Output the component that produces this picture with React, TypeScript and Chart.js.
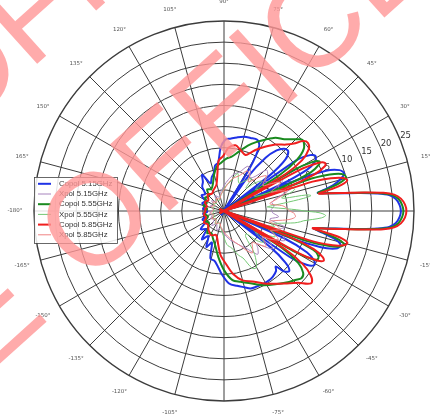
import React, { useEffect, useRef } from 'react';
import { Chart, registerables } from 'chart.js';

Chart.register(...registerables);

// Angular resolution of the radar categories (degrees per label)
const STEP = 0.5;
const COUNT = 720;

// Pattern samples: [angle in degrees (CCW from 0°), gain in dB]
const copol515: [number, number][] = [
  [0, 21.9], [2, 21.6], [4, 20.8], [5.5, 19.3], [6.5, 16.5], [7.5, 12.5], [8.5, 8.5], [9.5, 5.5], [10.5, 3.2], [11, 2.6],
  [12, 4.5], [13.5, 6.8], [15.5, 8.8], [17.5, 9.8], [19.5, 9], [21.5, 6], [23, -2], [24, -21],
  [25, -5], [26.5, 2], [28.5, 4.5], [31, 5.3], [33, 4.3], [35, 1], [36.5, -21],
  [38, -6], [40, -1], [43, 0.8], [46, 0.5], [49, -1], [52, -4], [55, -10], [57, -21],
  [59, -8], [61.5, -2.5], [65, -1.4], [70, -1.6], [75, -1.8], [80, -2.3], [85, -2.8], [89, -3.1], [93, -5], [97, -8.5],
  [101, -9], [105, -10.7], [110, -11.5], [116, -12.7], [121, -10], [126, -11.5], [132, -12.3], [138, -14], [145, -13.5],
  [152, -15], [160, -14.5], [168, -15.5], [174, -15], [180, -16],
  [-2, 21.6], [-4, 20.8], [-5.5, 19.3], [-6.5, 16.5], [-7.5, 12.5], [-8.5, 8.5], [-9.5, 5], [-10.5, 2.4], [-11, 1.5],
  [-12.5, 4], [-14.5, 7.5], [-16.5, 8.8], [-18.5, 8], [-20.5, 4.5], [-22, -3], [-23, -21],
  [-24.5, -4], [-26.5, 2], [-29, 4.5], [-31, 4.9], [-33, 3.5], [-35, -1], [-36.5, -21],
  [-38, -6], [-40, -1], [-42.5, 1], [-45, 0.3], [-47, -2], [-49, -1.2], [-53.5, -0.6], [-58, -0.4], [-62, -0.4],
  [-67, -0.5], [-71, -0.6], [-75, -1.3], [-80, -2], [-86, -2.8], [-92, -5], [-97, -7], [-101, -8], [-106, -8.3],
  [-111, -12], [-116, -10.5], [-122, -13], [-128, -11.5], [-134, -14], [-142, -13], [-150, -15], [-158, -14.5],
  [-165, -15.5], [-172, -15], [-177, -16],
];

const xpol515: [number, number][] = [
  [0, -8.6], [2, -8.8], [6, -8], [10, -8.5], [14, -7], [17, -4.5], [19, -3], [21.5, -5], [24, -6], [27, -4.5],
  [30, -4], [33, -7], [36, -8], [40, -6.5], [44, -6], [48, -9], [52, -10], [57, -8.5], [62, -8], [68, -10],
  [75, -11], [82, -12.5], [90, -14], [100, -15.5], [110, -16.5], [120, -15.8], [130, -17], [140, -16.2],
  [150, -17.2], [160, -16.5], [170, -17.5], [180, -17],
  [-2, -8.5], [-6, -7], [-10, -9], [-13, -7], [-15, -5], [-17.5, -6], [-20, -7], [-23, -5], [-26, -4], [-29, -6],
  [-32, -8], [-35, -6.5], [-38, -5.5], [-41, -7], [-45, -9], [-48, -8], [-52, -7], [-56, -8.5], [-60, -10],
  [-65, -11], [-70, -12], [-78, -13], [-85, -14], [-92, -15], [-100, -16], [-110, -15.2], [-120, -16.5],
  [-130, -15.5], [-140, -17], [-150, -16.4], [-160, -17], [-170, -16.6],
];

const copol555: [number, number][] = [
  [0, 22.5], [2, 22.2], [4, 21.4], [5.5, 19.9], [6.5, 17.3], [7.5, 13], [8.5, 8.8], [9.5, 5.5], [10.5, 3], [11, 2.7],
  [12, 5], [13.5, 8], [15.5, 10], [17.5, 9.2], [19, 6.5], [20.5, 1], [21.5, -21],
  [22.5, -4], [24, 2.5], [26, 5], [27.5, 5.5], [29, 4], [30.5, -1], [31.5, -21],
  [33, -4], [35, 1], [38, 4], [42, 5.1], [45, 4], [50, 2.2], [55, 1.2], [60, -0.5], [65, -2], [70, -3.5],
  [76, -5.5], [82, -7], [87, -7.5], [93, -8.5], [99, -9.3], [105, -11], [112, -13], [120, -14], [128, -13.5],
  [136, -15], [145, -14.5], [155, -15.5], [165, -15], [173, -16], [180, -15.5],
  [-2, 22.2], [-4, 21.4], [-5.5, 19.9], [-6.5, 17.3], [-7.5, 13], [-8.5, 8.8], [-9.5, 5.3], [-10.5, 2.5], [-11, 1.8],
  [-12.5, 5], [-14, 8], [-15.5, 9.5], [-17, 8.8], [-18.5, 6], [-20, 0.5], [-21, -21],
  [-22, -3], [-23.5, 3], [-25, 4.5], [-27, 5], [-28.5, 4], [-30, -1], [-31, -21],
  [-32.5, -4], [-35, 1.5], [-38, 3.8], [-41, 4.3], [-44, 3.5], [-47.5, 2.8], [-55, 1.2], [-62.5, -0.2],
  [-70, -1.8], [-77, -2.8], [-83, -3.5], [-90, -6], [-97, -9], [-104, -11.5], [-112, -13], [-120, -14],
  [-127, -13.4], [-135, -14.8], [-143, -15.5], [-152, -15], [-161, -16], [-170, -15.5],
];

const xpol555: [number, number][] = [
  [0, -1], [0.5, -1.8], [1.5, -4], [3, -7], [4.5, -9], [5.5, -9.7], [6.5, -8], [7.5, -5.7], [9, -1], [10, 0.9],
  [11, 0], [12, -5.5], [13, -6], [15, -4], [17, -2.5], [19.5, -3.3], [21, -6], [23, -10], [26, -12], [30, -9],
  [34, -11], [38, -8.5], [42, -10], [46, -12.5], [50, -10], [56, -11.5], [62, -12.5], [70, -10.5], [78, -13],
  [86, -14], [95, -15.5], [105, -16.5], [115, -17.3], [125, -16.6], [135, -17.5], [145, -16.8], [155, -17.6],
  [165, -17], [175, -17.8], [180, -17.5],
  [-1, 2.5], [-2.5, 4.1], [-4, 3.2], [-5.5, 1], [-7, -1], [-8, -1.7], [-9.5, -3], [-11, -5], [-13, -7],
  [-15, -8.5], [-17, -7.5], [-20, -10], [-24, -7], [-27, -6.5], [-30, -9], [-34, -11], [-38, -8], [-42, -9.5],
  [-46, -12.5], [-50, -12], [-54, -8], [-58, -5.5], [-61, -4.5], [-64, -5], [-68, -8], [-72, -9], [-78, -11],
  [-85, -12], [-95, -15], [-105, -16.5], [-115, -17], [-125, -16.3], [-135, -17.4], [-145, -16.8],
  [-155, -17.6], [-165, -17], [-175, -17.6],
];

const copol585: [number, number][] = [
  [0, 23.2], [2, 22.9], [4, 22], [5.5, 20.5], [6.5, 18], [7.5, 13.5], [8.5, 9], [9.5, 5.5], [10.5, 2.8],
  [11.5, 6], [12.5, 8.5], [14, 10.1], [15.5, 9.3], [17, 6.5], [18.5, 1], [19.5, -21],
  [20.5, -4], [22, 3], [24, 6.2], [25.5, 6.5], [27, 5], [28.5, 0], [29.5, -21],
  [31, -3], [33, 2], [36, 4.8], [39, 5.6], [41.5, 5], [44, 3], [47, 1.5], [52, 0], [57, -1.8], [62, -3.5],
  [66, -5], [69, -5.8], [75, -5], [80, -4.2], [86, -5], [91, -7], [96, -8], [100, -11], [106, -13.5],
  [116, -14.4], [125, -15], [135, -14.5], [145, -15.5], [155, -15], [165, -15.8], [172, -15.5], [180, -15.6],
  [-2, 22.9], [-4, 22], [-5.5, 20.5], [-6.5, 18], [-7.5, 13.5], [-8.5, 9], [-9.5, 5.3], [-10.5, 2.2], [-11, 1.4],
  [-12, 5], [-13, 8.5], [-14.5, 10.2], [-16, 9.5], [-17.5, 7], [-19, 1], [-20, -21],
  [-21.5, -3], [-23, 3], [-25, 5.8], [-26.5, 6.4], [-28, 5], [-29.5, 0], [-30.5, -21],
  [-32, -3], [-34, 2.5], [-36.5, 5.5], [-39, 6.8], [-41, 6.3], [-44, 4.5], [-50, 2.4], [-55, 1], [-61, -0.4],
  [-68, -2], [-75, -3], [-82, -5], [-88, -7.5], [-94.5, -9.5], [-100, -12], [-108, -14], [-118, -13.5],
  [-129, -14.2], [-140, -15], [-150, -14.5], [-160, -15.5], [-170, -15.2],
];

const xpol585: [number, number][] = [
  [0, -4.5], [2, -5], [5, -6], [9, -9], [13, -7], [17, -4.5], [20, -6], [22, -8], [25, -6], [27, -5], [30, -7],
  [33, -9], [37, -8], [40, -7], [45, -9], [50, -11], [55, -9.5], [60, -9], [67, -11], [75, -12], [82, -13.5],
  [90, -15], [100, -16], [110, -17], [120, -16.5], [130, -17.3], [140, -16.6], [150, -17.4], [160, -16.8],
  [170, -17.5], [180, -17.2],
  [-1.5, -3.5], [-3, -3.2], [-4.5, -3], [-6, -3.5], [-7.5, -4.5], [-9, -6], [-11, -8], [-13, -9], [-15.5, -7],
  [-18, -6], [-20.5, -7], [-23, -8], [-26, -6], [-28, -5.5], [-31, -7], [-34, -9], [-37, -8], [-40, -7],
  [-44, -8.5], [-48, -10], [-52, -9], [-56, -8], [-61, -9.5], [-65, -11], [-70, -12], [-75, -13], [-82, -14],
  [-90, -15], [-100, -16], [-110, -17], [-122, -16.4], [-135, -17.3], [-148, -16.6], [-160, -17.4], [-170, -16.8],
];

const seriesLabels = [
  'Copol 5.15GHz', 'Xpol 5.15GHz', 'Copol 5.55GHz', 'Xpol 5.55GHz', 'Copol 5.85GHz', 'Xpol 5.85GHz',
];
const seriesColors = ['#1f32e6', '#a784bd', '#1a8a1f', '#74c874', '#f01e1e', '#f08484'];
const seriesWidths = [2, 1, 2, 1, 2, 1];

const angleTicks = [0, 15, 30, 45, 60, 75, 90, 105, 120, 135, 150, 165, -180, -165, -150, -135, -120, -105, -90, -75, -60, -45, -30, -15];
const radialTicks = [-15, -10, -5, 0, 5, 10, 15, 20, 25];
const R_MIN = -20;
const R_MAX = 25;
const WATERMARK = 'OFFICE';

// Radar index for a math angle (index 0 at 3 o'clock, indices run clockwise)
function indexFor(angle: number): number {
  const a = (((-angle) % 360) + 360) % 360;
  return Math.round(a / STEP) % COUNT;
}

function toRadarData(pairs: [number, number][]): (number | null)[] {
  const out: (number | null)[] = new Array(COUNT).fill(null);
  for (const [a, v] of pairs) out[indexFor(a)] = v;
  return out;
}

const categoryLabels = Array.from({ length: COUNT }, (_, i) => {
  let a = -i * STEP;
  if (a <= -180) a += 360;
  return `${a}°`;
});

const axisText = {
  id: 'axisText',
  beforeDatasetsDraw(chart: any) {
    const scale = chart.scales.r;
    const ctx = chart.ctx;
    ctx.save();
    ctx.textAlign = 'center';
    ctx.textBaseline = 'middle';
    ctx.fillStyle = '#555';
    ctx.font = '5.5px "DejaVu Sans"';
    for (const a of angleTicks) {
      const p = scale.getPointPosition(indexFor(a), scale.drawingArea + 19);
      ctx.fillText(`${a}°`, p.x, p.y);
    }
    ctx.fillStyle = '#333';
    ctx.font = '8.5px "DejaVu Sans"';
    for (const v of radialTicks) {
      const d = scale.getDistanceFromCenterForValue(v) + 6.5;
      const p = scale.getPointPosition(indexFor(22.5), d);
      ctx.fillText(String(v), p.x, p.y);
    }
    ctx.restore();
  },
};

const legendBox = {
  id: 'legendBox',
  afterDatasetsDraw(chart: any) {
    const ctx = chart.ctx;
    const x = 34, y = 177, w = 83, h = 66;
    ctx.save();
    ctx.fillStyle = 'rgba(255,255,255,0.85)';
    ctx.fillRect(x, y, w, h);
    ctx.strokeStyle = '#444';
    ctx.lineWidth = 0.8;
    ctx.strokeRect(x + 0.5, y + 0.5, w, h);
    ctx.font = '7.8px "Liberation Sans"';
    ctx.textBaseline = 'middle';
    ctx.textAlign = 'left';
    chart.data.datasets.forEach((ds: any, i: number) => {
      const ry = y + 6.8 + i * 10.2;
      ctx.strokeStyle = ds.borderColor;
      ctx.lineWidth = ds.borderWidth;
      ctx.beginPath();
      ctx.moveTo(38, ry);
      ctx.lineTo(51, ry);
      ctx.stroke();
      ctx.fillStyle = '#333';
      ctx.fillText(ds.label, 59, ry);
    });
    ctx.restore();
  },
};

const watermark = {
  id: 'watermark',
  afterDraw(chart: any) {
    const ctx = chart.ctx;
    const size = 130;
    ctx.save();
    ctx.fillStyle = 'rgba(255,150,150,0.8)';
    ctx.font = `${size}px "Liberation Sans"`;
    ctx.textBaseline = 'alphabetic';
    ctx.translate(93, 217);
    ctx.rotate((-42 * Math.PI) / 180);
    const rows: [number, number[]][] = [
      [0, [-525, 0, 525]],
      [-198, [0, 525]],
    ];
    for (const [perp, alongs] of rows) {
      for (const along of alongs) {
        ctx.fillText(WATERMARK, along - 0.39 * size, perp + 0.36 * size);
      }
    }
    ctx.restore();
  },
};

export default function App() {
  const canvasRef = useRef<HTMLCanvasElement | null>(null);

  useEffect(() => {
    const canvas = canvasRef.current;
    if (!canvas) return;
    const series = [copol515, xpol515, copol555, xpol555, copol585, xpol585];
    const chart = new Chart(canvas, {
      type: 'radar',
      data: {
        labels: categoryLabels,
        datasets: series.map((s, i) => ({
          label: seriesLabels[i],
          data: toRadarData(s),
          borderColor: seriesColors[i],
          backgroundColor: 'transparent',
          borderWidth: seriesWidths[i],
          fill: false,
          spanGaps: true,
          pointRadius: 0,
          pointHoverRadius: 0,
          tension: 0.3,
          order: 6 - i,
        })),
      },
      options: {
        responsive: false,
        animation: false,
        devicePixelRatio: 1,
        layout: { padding: { left: 34, right: 16, top: 21, bottom: 15 } },
        plugins: {
          legend: { display: false },
          tooltip: { enabled: false },
        },
        elements: { line: { borderJoinStyle: 'round', capBezierPoints: false } },
        scales: {
          r: {
            min: R_MIN,
            max: R_MAX,
            startAngle: 90,
            ticks: { display: false, stepSize: 5 },
            grid: {
              circular: true,
              color: '#3c3c3c',
              lineWidth: (c: any) => (c.tick && c.tick.value === R_MAX ? 1.4 : c.tick && c.tick.value === R_MIN ? 0 : 1),
            },
            angleLines: {
              display: true,
              color: '#3c3c3c',
              lineWidth: (c: any) => (c.index % 30 === 0 ? 1 : 0),
            },
            pointLabels: { display: false },
          },
        },
      },
      plugins: [axisText, legendBox, watermark],
    } as any);
    return () => chart.destroy();
  }, []);

  return (
    <div style={{ position: 'fixed', left: 0, top: 0, width: 430, height: 416, background: '#fff' }}>
      <canvas ref={canvasRef} width={430} height={416} style={{ display: 'block' }} />
    </div>
  );
}
